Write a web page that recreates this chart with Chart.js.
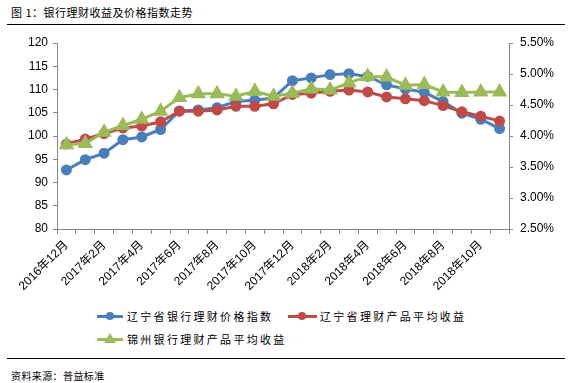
<!DOCTYPE html>
<html>
<head>
<meta charset="utf-8">
<script src="https://cdn.jsdelivr.net/npm/chart.js@4"></script>
<style>
  body { margin: 0; width: 576px; height: 383px; background: #fff; position: relative; overflow: hidden;
         font-family: "Noto Sans CJK SC", "Liberation Sans", sans-serif; }
  #wrap { position: absolute; left: 0; top: 0; width: 576px; height: 300px; }
  .title { position: absolute; left: 11px; top: 4px; font-size: 11px; letter-spacing: 0.5px; color: #000; }
  .rule { position: absolute; left: 7px; width: 558px; height: 0; border-top: 1.5px solid #000; }
  .src { position: absolute; left: 11px; top: 368px; font-size: 10px; letter-spacing: 0.4px; color: #000; }
  .leg { position: absolute; font-size: 11px; letter-spacing: 2.3px; color: #000; line-height: 14px; }
  .sw { position: absolute; height: 3px; }
  .dot { position: absolute; width: 8px; height: 8px; border-radius: 50%; }
  .tri { position: absolute; width: 0; height: 0; border-left: 6px solid transparent; border-right: 6px solid transparent; border-bottom: 10px solid #9BBB59; }
</style>
</head>
<body>
<div class="title">图 1：银行理财收益及价格指数走势</div>
<div class="rule" style="top:24px"></div>
<div id="wrap"><canvas id="c" width="576" height="300"></canvas></div>

<!-- legend -->
<div class="sw" style="left:97px;top:315px;width:26px;background:#4A7EBB"></div>
<div class="dot" style="left:106px;top:312px;background:#4A7EBB"></div>
<div class="leg" style="left:127px;top:309px">辽宁省银行理财价格指数</div>
<div class="sw" style="left:288px;top:315px;width:29px;background:#BE4B48"></div>
<div class="dot" style="left:298px;top:312px;background:#BE4B48"></div>
<div class="leg" style="left:320px;top:309px">辽宁省理财产品平均收益</div>
<div class="sw" style="left:97px;top:338px;width:26px;background:#9BBB59"></div>
<div class="tri" style="left:104px;top:333px"></div>
<div class="leg" style="left:127px;top:332px">锦州银行理财产品平均收益</div>

<div class="rule" style="top:358px"></div>
<div class="src">资料来源：普益标准</div>

<script>
// months 2016-12 .. 2018-11
const months = [
  "2016年12月", "2017年1月", "2017年2月", "2017年3月", "2017年4月", "2017年5月",
  "2017年6月", "2017年7月", "2017年8月", "2017年9月", "2017年10月", "2017年11月",
  "2017年12月", "2018年1月", "2018年2月", "2018年3月", "2018年4月", "2018年5月",
  "2018年6月", "2018年7月", "2018年8月", "2018年9月", "2018年10月", "2018年11月"
];

// 辽宁省银行理财价格指数 (left axis)
const priceIndex = [
  92.7, 94.9, 96.3, 99.2, 99.8, 101.4, 105.4, 105.6, 106.1, 107.4, 107.7, 108.2,
  111.9, 112.5, 113.2, 113.4, 112.8, 111.0, 110.1, 109.4, 107.4, 104.9, 103.6, 101.6
];

// 辽宁省理财产品平均收益 (%, right axis)
const lnYield = [
  3.87, 3.95, 4.04, 4.13, 4.16, 4.23, 4.40, 4.40, 4.42, 4.48, 4.48, 4.52,
  4.67, 4.69, 4.72, 4.74, 4.71, 4.63, 4.60, 4.57, 4.49, 4.39, 4.32, 4.24
];

// 锦州银行理财产品平均收益 (%, right axis)
const jzYield = [
  3.86, 3.88, 4.06, 4.17, 4.27, 4.40, 4.62, 4.68, 4.68, 4.64, 4.72, 4.64,
  4.69, 4.76, 4.74, 4.86, 4.96, 4.95, 4.82, 4.83, 4.71, 4.70, 4.71, 4.71
];

const axisColor = "#868686";
const tickFont = { family: "Liberation Sans, Noto Sans CJK SC", size: 12 };

new Chart(document.getElementById("c"), {
  type: "line",
  data: {
    labels: months,
    datasets: [
      {
        label: "辽宁省银行理财价格指数",
        data: priceIndex,
        yAxisID: "y",
        borderColor: "#4A7EBB",
        backgroundColor: "#4A7EBB",
        borderWidth: 3,
        pointRadius: 4,
        pointStyle: "circle",
        order: 2
      },
      {
        label: "辽宁省理财产品平均收益",
        data: lnYield,
        yAxisID: "y1",
        borderColor: "#BE4B48",
        backgroundColor: "#BE4B48",
        borderWidth: 3,
        pointRadius: 4,
        pointStyle: "circle",
        order: 1
      },
      {
        label: "锦州银行理财产品平均收益",
        data: jzYield,
        yAxisID: "y1",
        borderColor: "#9BBB59",
        backgroundColor: "#9BBB59",
        borderWidth: 3,
        pointRadius: 6,
        pointStyle: "triangle",
        order: 0
      }
    ]
  },
  options: {
    responsive: false,
    animation: false,
    layout: { padding: { top: 43, left: 0, right: 0, bottom: 0 } },
    plugins: { legend: { display: false }, tooltip: { enabled: false } },
    scales: {
      x: {
        offset: true,
        grid: { offset: true, drawOnChartArea: false, tickLength: 5, color: axisColor },
        border: { color: axisColor },
        ticks: {
          autoSkip: false,
          maxRotation: 45,
          minRotation: 45,
          padding: 4,
          color: "#000",
          font: { family: "Liberation Sans, Noto Sans CJK SC", size: 12 },
          callback: function (v, i) { return i % 2 === 0 ? months[i] : ""; }
        },
        afterFit: function (s) { s.height = 71; }
      },
      y: {
        position: "left",
        min: 80,
        max: 120,
        ticks: { stepSize: 5, color: "#000", font: tickFont, padding: 5 },
        grid: { drawOnChartArea: false, tickLength: 4, color: axisColor },
        border: { color: axisColor },
        afterFit: function (s) { s.width = 57; }
      },
      y1: {
        position: "right",
        min: 2.5,
        max: 5.5,
        ticks: {
          stepSize: 0.5,
          color: "#000",
          font: tickFont,
          padding: 7,
          callback: function (v) { return v.toFixed(2) + "%"; }
        },
        grid: { drawOnChartArea: false, tickLength: 4, color: axisColor },
        border: { color: axisColor },
        afterFit: function (s) { s.width = 67; }
      }
    }
  }
});
</script>
</body>
</html>
